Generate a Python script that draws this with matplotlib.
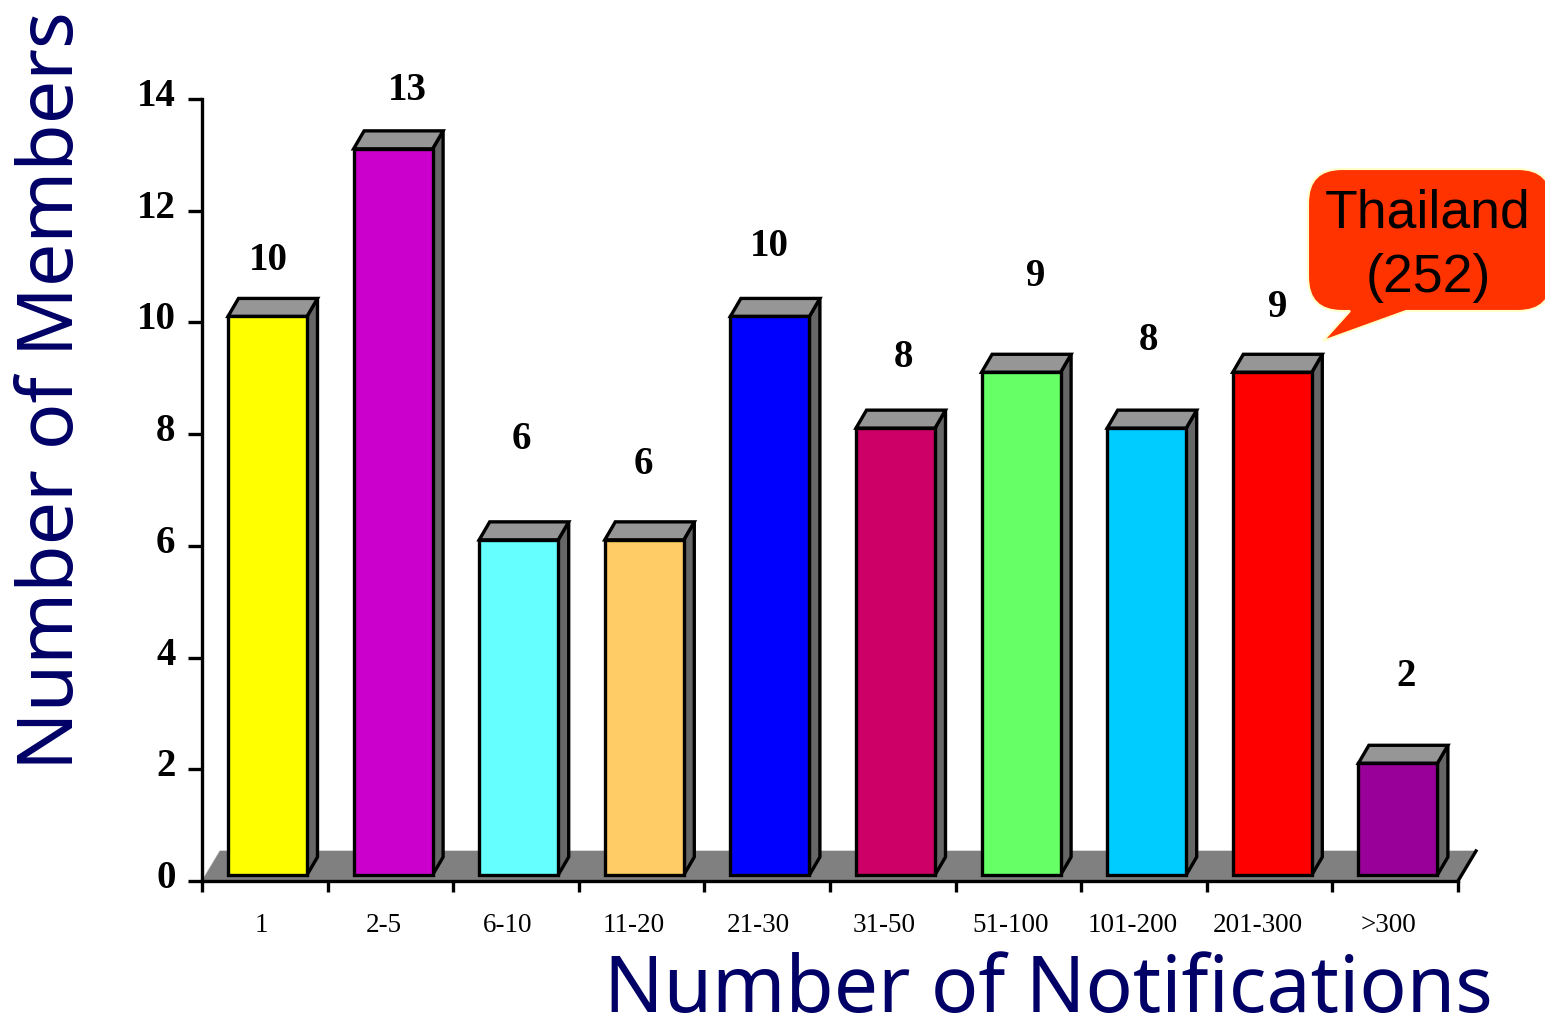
"""
Members by number of notifications, fake-3D bars.
"""
import matplotlib
matplotlib.use('Agg')
import matplotlib.pyplot as plt
from matplotlib.patches import PathPatch, Polygon
from matplotlib.path import Path
from matplotlib.transforms import ScaledTranslation

categories = ['1', '2-5', '6-10', '11-20', '21-30', '31-50', '51-100',
              '101-200', '201-300', '>300']
members = [10, 13, 6, 6, 10, 8, 9, 8, 9, 2]
colors = ['#ffff00', '#cc00cc', '#66ffff', '#ffcc66', '#0000ff',
          '#cc0066', '#66ff66', '#00ccff', '#ff0000', '#990099']
yticks = [0, 2, 4, 6, 8, 10, 12, 14]

W, H = 1545, 1020
X0, X1, Y0, Y14 = 202, 1458, 882, 100   # plot box in pixels

# shifts of the printed labels, in pixels, they are not centred in the original
label_dx = [-3, -7, -8, -8, -9, -9, -8, -11, -12, -7]
value_dx = [1, 14, 3, -1, -1, 8, 15, 2, 5, 8]
value_dy = [57, 59, 101, 76, 71, 72, 97, 89, 66, 88]

fig = plt.figure(figsize=(W / 100, H / 100), dpi=100)
ax = fig.add_axes([X0 / W, 1 - Y0 / H, (X1 - X0) / W, (Y0 - Y14) / H])
ax.set_xlim(0, len(categories))
ax.set_ylim(0, 14)
ax.patch.set_alpha(0)

ux = (X1 - X0) / len(categories)
uy = (Y0 - Y14) / 14
lift = 6 / uy        # front face sits above the axis
dx = 10.5 / ux       # depth
dy = 18 / uy
width = 79 / ux
pad = 26 / ux

# floor
floor_top = 30 / uy
ax.add_patch(Polygon([(0, 0), (len(categories), 0),
                      (len(categories) + 18 / ux, floor_top), (18 / ux, floor_top)],
                     closed=True, fc='#808080', ec='none', zorder=1, clip_on=False))
ax.plot([0, 18 / ux, len(categories) + 18 / ux], [0, floor_top, floor_top],
        color='#c8c8c8', lw=1, zorder=0.9, clip_on=False)
ax.plot([len(categories), len(categories) + 18 / ux], [0, floor_top],
        color='black', lw=2.4, zorder=1.1, clip_on=False)

edge = 2.4
for i, v in enumerate(members):
    l = i + pad
    r = l + width
    top = v + lift
    ax.bar(l, v, width=width, bottom=lift, align='edge', color=colors[i],
           edgecolor='black', linewidth=edge, zorder=3, clip_on=False)
    ax.add_patch(Polygon([(r, lift), (r + dx, lift + dy), (r + dx, top + dy), (r, top)],
                         closed=True, fc='#666666', ec='black', lw=edge,
                         zorder=2, clip_on=False))
    ax.add_patch(Polygon([(l, top), (l + dx, top + dy), (r + dx, top + dy), (r, top)],
                         closed=True, fc='#969696', ec='black', lw=edge,
                         zorder=2, clip_on=False))
    ax.annotate(str(v), (l + width / 2, top), xytext=(value_dx[i] * 0.72, value_dy[i] * 0.72),
                textcoords='offset points', ha='center', va='center',
                family='Liberation Serif', weight='bold', fontsize=28, color='black',
                zorder=5, annotation_clip=False)

for side in ['top', 'right']:
    ax.spines[side].set_visible(False)
for side in ['left', 'bottom']:
    ax.spines[side].set_linewidth(2.4)
    ax.spines[side].set_zorder(4)

ax.set_yticks(yticks)
ax.tick_params(axis='y', length=10, width=2.4, pad=9)
for lab in ax.get_yticklabels():
    lab.set_family('Liberation Serif')
    lab.set_weight('bold')
    lab.set_fontsize(28)
    lab.set_transform(lab.get_transform() + ScaledTranslation(0, 8 / 100, fig.dpi_scale_trans))

ax.set_xticks(range(len(categories) + 1))
ax.set_xticklabels([])
ax.tick_params(axis='x', which='major', length=8, width=2.4)
ax.set_xticks([i + 0.5 + d / ux for i, d in enumerate(label_dx)], minor=True)
ax.set_xticklabels(categories, minor=True, family='Liberation Serif', fontsize=19.5)
ax.tick_params(axis='x', which='minor', length=0, pad=22.5)

# overlay in pixel coordinates for titles and the callout
pix = fig.add_axes([0, 0, 1, 1], zorder=10)
pix.set_xlim(0, W)
pix.set_ylim(H, 0)
pix.axis('off')

navy = '#000066'
pix.text(604, 1012, 'Number of Notifications', ha='left', va='baseline',
         family='Noto Sans', fontsize=56.5, color=navy)
pix.text(73, 770, 'Number of Members', ha='left', va='baseline', rotation=90,
         rotation_mode='anchor', family='Noto Sans', fontsize=55.5, color=navy)

x0, x1, y0, y1 = 1308, 1552, 170, 312
r = 34
verts = [(x0 + r, y0), (x1 - r, y0), (x1, y0), (x1, y0 + r), (x1, y1 - r), (x1, y1), (x1 - r, y1),
         (1406, y1), (1323, 342), (1350, y1),
         (x0 + r, y1), (x0, y1), (x0, y1 - r), (x0, y0 + r), (x0, y0), (x0 + r, y0), (x0 + r, y0)]
codes = [Path.MOVETO, Path.LINETO, Path.CURVE3, Path.CURVE3, Path.LINETO, Path.CURVE3, Path.CURVE3,
         Path.LINETO, Path.LINETO, Path.LINETO,
         Path.LINETO, Path.CURVE3, Path.CURVE3, Path.LINETO, Path.CURVE3, Path.CURVE3, Path.CLOSEPOLY]
pix.add_patch(PathPatch(Path(verts, codes), fc='#ff3300', ec='#ffffcc', lw=1.5, zorder=6))
pix.text(1428, 214, 'Thailand', ha='center', va='center', family='Liberation Sans',
         fontsize=38.5, color='black', zorder=7)
pix.text(1428, 278, '(252)', ha='center', va='center', family='Liberation Sans',
         fontsize=38.5, color='black', zorder=7)

fig.savefig('out.png', dpi=100)
